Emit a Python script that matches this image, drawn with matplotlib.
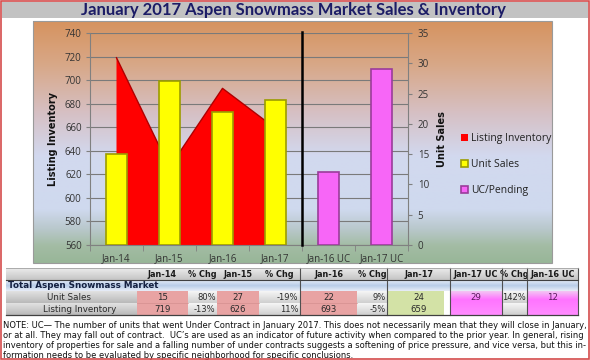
import numpy as np
import matplotlib
matplotlib.use("Agg")
import matplotlib.pyplot as plt
from matplotlib.patches import Rectangle

# ---------------- data ----------------
categories = ['Jan-14', 'Jan-15', 'Jan-16', 'Jan-17', 'Jan-16 UC', 'Jan-17 UC']
listing_inventory = [719, 626, 693, 659]          # Jan-14 .. Jan-17 (left axis)
unit_sales = [15, 27, 22, 24]                     # Jan-14 .. Jan-17 (right axis)
uc_pending = [12, 29]                             # Jan-16 UC, Jan-17 UC (right axis)
left_ticks = [560, 580, 600, 620, 640, 660, 680, 700, 720, 740]
right_ticks = [0, 5, 10, 15, 20, 25, 30, 35]

title = 'January 2017 Aspen Snowmass Market Sales & Inventory'

table_cols = ['Jan-14', '% Chg', 'Jan-15', '% Chg', 'Jan-16', '% Chg', 'Jan-17',
              'Jan-17 UC', '% Chg', 'Jan-16 UC']
table_group = 'Total Aspen Snowmass Market'
row_labels = ['Unit Sales', 'Listing Inventory']
row_unit_sales = ['15', '80%', '27', '-19%', '22', '9%', '24', '29', '142%', '12']
row_inventory = ['719', '-13%', '626', '11%', '693', '-5%', '659', '', '', '']

note_lines = [
    "NOTE: UC\u2014 The number of units that went Under Contract in January 2017. This does not necessarily mean that they will close in January,",
    "or at all. They may fall out of contract.  UC\u2019s are used as an indicator of future activity when compared to the prior year. In general, rising",
    "inventory of properties for sale and a falling number of under contracts suggests a softening of price pressure, and vice versa, but this in-",
    "formation needs to be evaluated by specific neighborhood for specific conclusions.",
]

# ---------------- figure ----------------
W, H = 590, 360
fig = plt.figure(figsize=(W / 100, H / 100), dpi=100)
fig.patch.set_facecolor('white')

ov = fig.add_axes([0, 0, 1, 1])
ov.set_zorder(-1)
ov.axis('off')
ov.set_xlim(0, W)
ov.set_ylim(H, 0)


def hexrgb(h):
    h = h.lstrip('#')
    return [int(h[i:i + 2], 16) / 255 for i in (0, 2, 4)]


def grad_rect(x0, x1, y0, y1, stops, z=1):
    pos = [s[0] for s in stops]
    cols = np.array([hexrgb(s[1]) for s in stops])
    t = np.linspace(0, 1, 200)
    img = np.stack([np.interp(t, pos, cols[:, c]) for c in range(3)], axis=1)[:, None, :]
    ov.imshow(img, extent=(x0, x1, y1, y0), origin='upper', aspect='auto',
              zorder=z, interpolation='bilinear')


# title band
ov.add_patch(Rectangle((2, 2), 586, 16, facecolor='#c2c2c2', edgecolor='none', zorder=1))
ov.text(293, 10.5, title, ha='center', va='center', fontsize=12, fontweight='bold',
        family='Lato', color='#1c1c66', zorder=5)

# chart background gradient
grad_rect(33, 552, 21, 263, [(0.0, '#d6935f'), (0.18, '#d8a888'), (0.38, '#d6c0c4'),
                             (0.56, '#d2d9ef'), (0.78, '#cfd9ee'), (0.86, '#b9c8cc'),
                             (0.93, '#a3bca4'), (1.0, '#98b698')], z=1)
ov.add_patch(Rectangle((33, 21), 519, 242, facecolor='none', edgecolor='#9a9a9a', lw=0.8, zorder=2))

# ---------------- chart ----------------
ax = fig.add_axes([90 / W, 1 - 245 / H, 318 / W, 212 / H])
ax.patch.set_visible(False)
x = np.arange(len(categories))
xi = x[:len(listing_inventory)]
area = ax.fill_between(xi, listing_inventory, 560, facecolor='#ff0000', edgecolor='none', zorder=2)
ax.plot(xi, listing_inventory, color='#b00000', lw=1.0, zorder=3)
ax.set_ylim(560, 740)
ax.set_xlim(-0.5, len(categories) - 0.5)
ax.set_yticks(left_ticks)
ax.yaxis.grid(True, color='#7a7a7a', lw=0.8, zorder=0)
ax.set_axisbelow(True)
for s in ['top', 'right']:
    ax.spines[s].set_visible(False)
ax.spines['left'].set_color('#808080')
ax.spines['bottom'].set_color('#808080')
ax.set_xticks(x)
ax.set_xticklabels(categories)
ax.set_xticks(np.arange(-0.5, len(categories), 1), minor=True)
ax.tick_params(axis='x', which='major', length=0, pad=6, labelsize=7, labelcolor='#333333')
ax.tick_params(axis='x', which='minor', length=4, color='#808080')
ax.tick_params(axis='y', length=3, color='#808080', labelsize=7, labelcolor='#333333', pad=3)
ax.set_ylabel('Listing Inventory', fontsize=7, fontweight='bold', color='#111111', labelpad=5)
for lab in ax.get_xticklabels() + ax.get_yticklabels():
    lab.set_family('Open Sans')

ax2 = ax.twinx()
ax2.set_ylim(0, 35)
ax2.set_yticks(right_ticks)
b1 = ax2.bar(xi, unit_sales, width=0.38, color='#ffff00', edgecolor='#9c9c00', lw=1.2, zorder=3)
xu = x[len(listing_inventory):]
b2 = ax2.bar(xu, uc_pending, width=0.38, color='#f766f7', edgecolor='#9a3c9a', lw=1.2, zorder=3)
ax2.axvline(len(listing_inventory) - 0.5, ymin=0, ymax=1.005, color='black', lw=1.8, zorder=4, clip_on=False)
for s in ['top', 'left', 'bottom']:
    ax2.spines[s].set_visible(False)
ax2.spines['right'].set_color('#808080')
ax2.tick_params(axis='y', length=3, color='#808080', labelsize=7, labelcolor='#333333', pad=4)
ax2.set_ylabel('Unit Sales', fontsize=7, fontweight='bold', color='#111111', labelpad=6)
for lab in ax2.get_yticklabels():
    lab.set_family('Open Sans')

leg = fig.legend([area, b1, b2], ['Listing Inventory', 'Unit Sales', 'UC/Pending'],
                 loc='upper left', bbox_to_anchor=(461 / W, 1 - 133 / H), frameon=False,
                 fontsize=7.5, handlelength=0.7, handleheight=0.7, handletextpad=0.3,
                 labelspacing=1.45, borderaxespad=0, borderpad=0)
for t in leg.get_texts():
    t.set_family('Open Sans')
    t.set_color('#222222')

# ---------------- table ----------------
col_edges = [137, 188, 217, 259, 300, 357, 387, 450, 502, 527, 578]
tx0 = 6
hy0, hy1 = 268, 280     # header
gy0, gy1 = 280, 291     # group row
r_y = [(291, 303), (303, 315)]
cell_kind = ['val', 'pct', 'val', 'pct', 'val', 'pct', 'green', 'uc', 'pct', 'uc']

grad_rect(tx0, col_edges[-1], hy0, hy1, [(0, '#ececec'), (1, '#c4c4c4')], z=3)
grad_rect(tx0, col_edges[-1], gy0, gy1, [(0, '#e6edf7'), (0.5, '#b9cde8'), (1, '#e9eef8')], z=3)

for (y0, y1) in r_y:
    grad_rect(tx0, col_edges[0], y0, y1, [(0, '#e2e2e2'), (1, '#b9b9b9')], z=3)

for j, kind in enumerate(cell_kind):
    cx0, cx1 = col_edges[j], col_edges[j + 1]
    if kind == 'val':
        ov.add_patch(Rectangle((cx0, 291), cx1 - cx0, 24, facecolor='#e8a3a3', edgecolor='none', zorder=3))
        ov.plot([cx0, cx1], [303, 303], color='#d49090', lw=0.5, zorder=4)
    elif kind == 'green':
        ov.add_patch(Rectangle((cx0 + 1, 291), cx1 - cx0 - 7, 24, facecolor='#d3e2a6', edgecolor='none', zorder=3))
    elif kind == 'uc':
        grad_rect(cx0, cx1, 291, 315, [(0, '#f3c6f3'), (0.35, '#ff74ff'), (1, '#ff8cff')], z=3)
    else:
        for (y0, y1) in r_y:
            grad_rect(cx0, cx1, y0, y1, [(0, '#f6f6f6'), (1, '#cfcfcf')], z=3)

for j, lab in enumerate(table_cols):
    cx0, cx1 = col_edges[j], col_edges[j + 1]
    ov.text((cx0 + cx1) / 2, (hy0 + hy1) / 2 + 0.5, lab, ha='center', va='center', fontsize=5.9,
            fontweight='bold', color='#1a1a1a', zorder=6)
    for rvals, (y0, y1) in zip([row_unit_sales, row_inventory], r_y):
        v = rvals[j]
        if not v:
            continue
        kind = cell_kind[j]
        col = '#5a1a5a' if kind == 'uc' else '#2a2a2a'
        if kind == 'pct':
            ov.text(cx1 - 1.5, (y0 + y1) / 2, v, ha='right', va='center', fontsize=6.0,
                    color=col, zorder=6)
        else:
            ov.text((cx0 + cx1) / 2, (y0 + y1) / 2, v, ha='center', va='center', fontsize=6.2,
                    color=col, zorder=6)

ov.text(tx0 + 2, (gy0 + gy1) / 2, table_group, ha='left', va='center', fontsize=6.3,
        fontweight='bold', color='#142040', zorder=6)
for lab, (y0, y1), xx in zip(row_labels, r_y, [47, 43]):
    ov.text(xx, (y0 + y1) / 2, lab, ha='left', va='center', fontsize=6.3, color='#2a2a2a', zorder=6)

for xv in [300, 387, 450, 502, 527, 578]:
    ov.plot([xv, xv], [hy0, 315], color='#505050', lw=0.8, zorder=7)
ov.plot([tx0, 578], [hy0, hy0], color='#a0a0a0', lw=0.6, zorder=7)
ov.plot([tx0, 578], [hy1, hy1], color='#404040', lw=0.8, zorder=7)
ov.plot([tx0, 578], [315, 315], color='#404040', lw=0.9, zorder=7)

# note (font size fitted so the first line spans the page width)
renderer = fig.canvas.get_renderer()
note_fs = 6.5
probe = ov.text(3, 326, note_lines[0], fontsize=note_fs, family='DejaVu Sans')
wpx = probe.get_window_extent(renderer).width
probe.remove()
note_fs = note_fs * 584 / wpx
for i, line in enumerate(note_lines):
    ov.text(3, 325.0 + i * 10.0, line, ha='left', va='center', fontsize=note_fs,
            family='DejaVu Sans', color='#111111', zorder=6)

ov.add_patch(Rectangle((1, 1), 588, 358, facecolor='none', edgecolor='#d44c4c', lw=1.2, zorder=10))

ov.set_xlim(0, W)
ov.set_ylim(H, 0)

fig.savefig('out.png', dpi=100)
